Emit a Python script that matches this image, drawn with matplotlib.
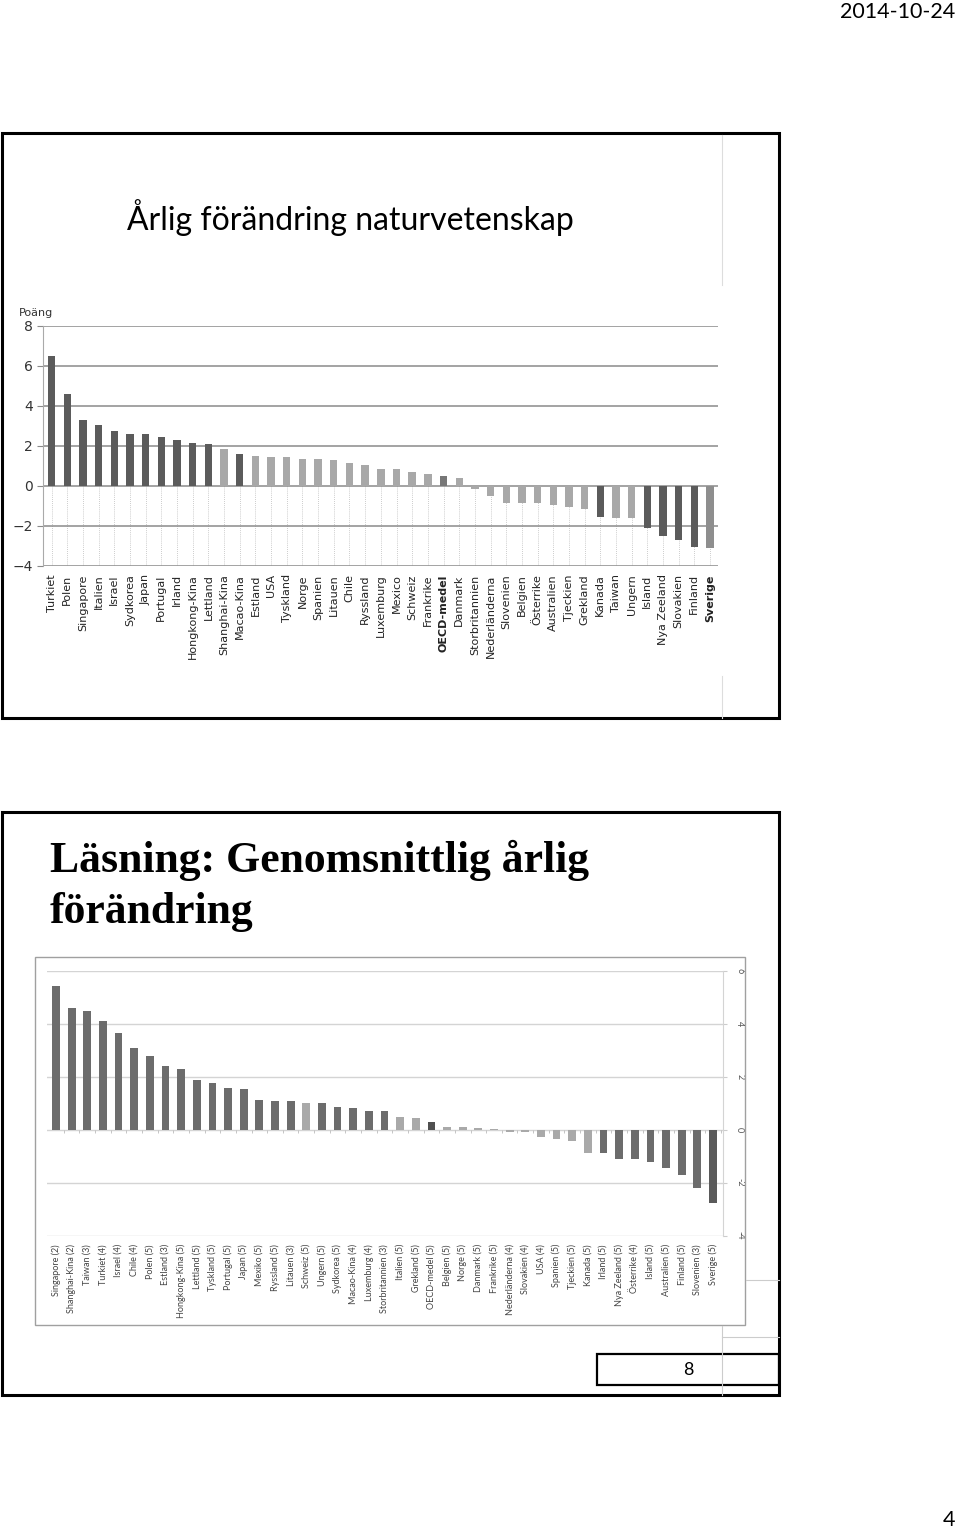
import numpy as np
import matplotlib.pyplot as plt
from matplotlib.patches import Rectangle

W, H = 960, 1534

# --- data: top chart (naturvetenskap) ---
top_countries = [
    'Turkiet', 'Polen', 'Singapore', 'Italien', 'Israel', 'Sydkorea', 'Japan',
    'Portugal', 'Irland', 'Hongkong-Kina', 'Lettland', 'Shanghai-Kina',
    'Macao-Kina', 'Estland', 'USA', 'Tyskland', 'Norge', 'Spanien', 'Litauen',
    'Chile', 'Ryssland', 'Luxemburg', 'Mexico', 'Schweiz', 'Frankrike',
    'OECD-medel', 'Danmark', 'Storbritannien', 'Nederländerna', 'Slovenien',
    'Belgien', 'Österrike', 'Australien', 'Tjeckien', 'Grekland', 'Kanada',
    'Taiwan', 'Ungern', 'Island', 'Nya Zeeland', 'Slovakien', 'Finland',
    'Sverige'
]
top_values = [
    6.47, 4.6, 3.3, 3.03, 2.74, 2.6, 2.6, 2.46, 2.29, 2.14, 2.07, 1.86, 1.59,
    1.48, 1.45, 1.45, 1.34, 1.34, 1.29, 1.16, 1.03, 0.83, 0.83, 0.67, 0.61,
    0.47, 0.38, -0.13, -0.5, -0.83, -0.86, -0.86, -0.94, -1.04, -1.16, -1.54,
    -1.58, -1.62, -2.1, -2.5, -2.72, -3.03, -3.1
]
# d = significant, l = not significant, o = OECD, s = Sverige
top_kind = list('ddddddddddd' 'l' 'd' 'llllllllllll' 'o' 'lllllllll' 'd' 'll' 'dddd' 's')
top_yticks = [8, 6, 4, 2, 0, -2, -4]

# --- data: bottom chart (läsning) ---
bottom_countries = [
    'Singapore (2)', 'Shanghai-Kina (2)', 'Taiwan (3)', 'Turkiet (4)',
    'Israel (4)', 'Chile (4)', 'Polen (5)', 'Estland (3)', 'Hongkong-Kina (5)',
    'Lettland (5)', 'Tyskland (5)', 'Portugal (5)', 'Japan (5)', 'Mexiko (5)',
    'Ryssland (5)', 'Litauen (3)', 'Schweiz (5)', 'Ungern (5)', 'Sydkorea (5)',
    'Macao-Kina (4)', 'Luxemburg (4)', 'Storbritannien (3)', 'Italien (5)',
    'Grekland (5)', 'OECD-medel (5)', 'Belgien (5)', 'Norge (5)',
    'Danmark (5)', 'Frankrike (5)', 'Nederländerna (4)', 'Slovakien (4)',
    'USA (4)', 'Spanien (5)', 'Tjeckien (5)', 'Kanada (5)', 'Irland (5)',
    'Nya Zeeland (5)', 'Österrike (4)', 'Island (5)', 'Australien (5)',
    'Finland (5)', 'Slovenien (3)', 'Sverige (5)'
]
bottom_values = [
    5.45, 4.61, 4.48, 4.12, 3.67, 3.1, 2.78, 2.42, 2.31, 1.89, 1.78, 1.58,
    1.54, 1.11, 1.1, 1.1, 1.03, 1.0, 0.88, 0.81, 0.71, 0.71, 0.5, 0.45, 0.28,
    0.1, 0.1, 0.06, 0.03, -0.1, -0.1, -0.29, -0.33, -0.43, -0.86, -0.88,
    -1.11, -1.1, -1.22, -1.43, -1.7, -2.2, -2.77
]
bottom_kind = list('dddddddddddddddd' 'l' 'ddddd' 'll' 'o' 'llllllllll' 'ddddddd' 's')
bottom_yticks = [6, 4, 2, 0, -2, -4]

top_colors = {'d': '#5b5b5b', 'l': '#a8a8a8', 'o': '#777777', 's': '#8e8e8e'}
bottom_colors = {'d': '#6c6c6c', 'l': '#a9a9a9', 'o': '#505050', 's': '#5a5a5a'}


def rect(x0, y0, x1, y1):
    # pixel box (top-left origin) -> figure fraction
    return [x0 / W, 1 - y1 / H, (x1 - x0) / W, (y1 - y0) / H]


fig = plt.figure(figsize=(W / 100, H / 100), dpi=100)
fig.patch.set_facecolor('white')

# ---------- top chart ----------
ax1 = fig.add_axes(rect(42.7, 325.7, 717.7, 566))
x1 = np.arange(len(top_values))
ax1.vlines(x1, -4, 0, colors='#bbbbbb', linestyles=(0, (1, 1.5)), linewidth=0.6, zorder=1)
for y in top_yticks:
    ax1.axhline(y, color='#8a8a8a', linewidth=1.1, zorder=1)
ax1.bar(x1, top_values, width=0.47, color=[top_colors[k] for k in top_kind], zorder=3)
ax1.set_xlim(-0.57, 42.49)
ax1.set_ylim(-4, 8)
ax1.set_yticks(top_yticks)
ax1.set_yticklabels([str(v).replace('-', '\u2212') for v in top_yticks], fontsize=10, color='#333333')
ax1.tick_params(axis='y', length=4, color='#8a8a8a', pad=3)
ax1.set_xticks(x1)
ax1.set_xticklabels(top_countries, rotation=90, fontsize=8, color='#222222')
ax1.tick_params(axis='x', length=0, pad=6)
for lbl in ax1.get_xticklabels():
    if lbl.get_text() in ('OECD-medel', 'Sverige'):
        lbl.set_fontweight('bold')
for s in ('top', 'right', 'bottom'):
    ax1.spines[s].set_visible(False)
ax1.spines['left'].set_color('#aaaaaa')
ax1.text(-0.035, 1.03, 'Poäng', transform=ax1.transAxes, fontsize=8, color='#333333',
         ha='left', va='bottom')

# ---------- bottom chart ----------
ax2 = fig.add_axes(rect(47.3, 971, 722.7, 1235.7))
x2 = np.arange(len(bottom_values))
for y in bottom_yticks:
    ax2.axhline(y, color='#d4d4d4', linewidth=1.0, zorder=1)
ax2.vlines(x2 + 0.5, -0.12, 0, colors='#bbbbbb', linewidth=0.6, zorder=1)
ax2.bar(x2, bottom_values, width=0.5, color=[bottom_colors[k] for k in bottom_kind], zorder=3)
ax2.set_xlim(-0.556, 42.62)
ax2.set_ylim(-4, 6)
ax2.yaxis.tick_right()
ax2.set_yticks(bottom_yticks)
ax2.set_yticklabels([str(v) for v in bottom_yticks], rotation=-90, fontsize=6.5,
                    color='#555555', family='Lato', va='center')
ax2.tick_params(axis='y', length=3, color='#cccccc', pad=6)
ax2.set_xticks(x2)
ax2.set_xticklabels(bottom_countries, rotation=90, fontsize=6.5, color='#444444', family='Lato')
ax2.tick_params(axis='x', length=0, pad=6)
for s in ('top', 'left', 'bottom'):
    ax2.spines[s].set_visible(False)
ax2.spines['right'].set_color('#d4d4d4')

# ---------- page overlay: frames, titles ----------
ov = fig.add_axes([0, 0, 1, 1], zorder=10)
ov.set_xlim(0, W)
ov.set_ylim(H, 0)
ov.axis('off')
ov.patch.set_alpha(0)

ov.add_patch(Rectangle((2, 133), 777, 585, fill=False, edgecolor='black', linewidth=2.2))
ov.add_patch(Rectangle((2, 812), 777, 583, fill=False, edgecolor='black', linewidth=2.2))
ov.add_patch(Rectangle((35, 957), 710, 368, fill=False, edgecolor='#a0a0a0', linewidth=1.0))
ov.add_patch(Rectangle((597, 1354), 182, 31, fill=False, edgecolor='black', linewidth=1.6))

# faint slide artefacts
ov.plot([722, 722], [135, 285], color='#dddddd', linewidth=0.8)
ov.plot([722, 722], [676, 718], color='#dddddd', linewidth=0.8)
ov.plot([722, 722], [1326, 1395], color='#cccccc', linewidth=0.8)
ov.plot([722, 779], [1337, 1337], color='#cccccc', linewidth=0.8)
ov.plot([746, 779], [1280, 1280], color='#cccccc', linewidth=0.8)

ov.text(127, 218, 'Årlig förändring naturvetenskap', fontsize=23, family='Lato',
        ha='left', va='center', color='black')
ov.text(50, 860, 'Läsning: Genomsnittlig årlig', fontsize=31.5, family='Liberation Serif',
        fontweight='bold', ha='left', va='center', color='black')
ov.text(50, 912, 'förändring', fontsize=31.5, family='Liberation Serif',
        fontweight='bold', ha='left', va='center', color='black')
ov.text(688, 1370, '8', fontsize=13, family='Lato', ha='center', va='center')
ov.text(955, 12, '2014-10-24', fontsize=15.5, family='Lato', ha='right', va='center')
ov.text(955, 1520, '4', fontsize=15.5, family='Lato', ha='right', va='center')

fig.savefig('out.png', dpi=100)
